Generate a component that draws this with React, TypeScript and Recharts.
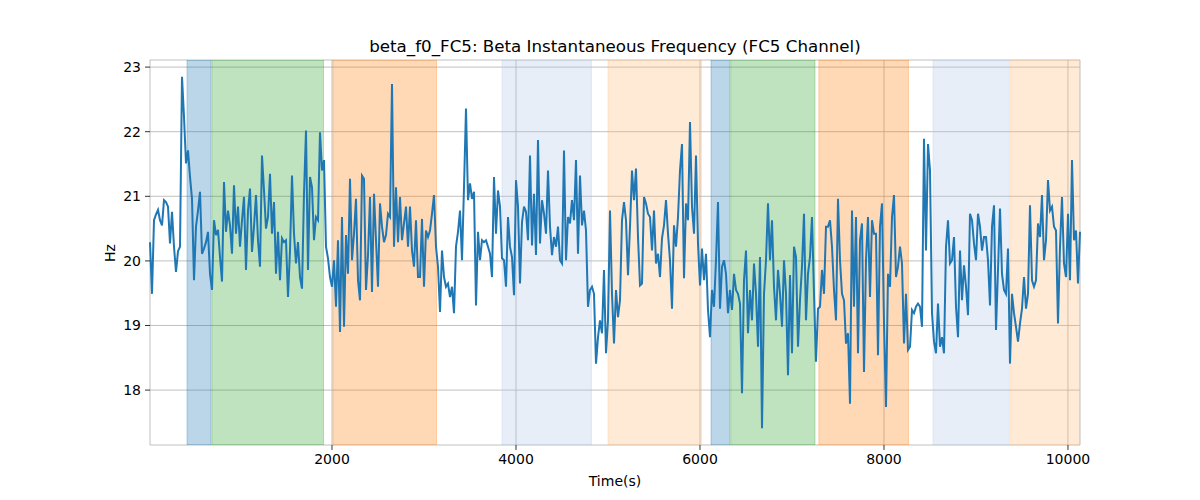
import {
  CartesianGrid,
  Line,
  LineChart,
  ReferenceArea,
  XAxis,
  YAxis,
} from 'recharts'

// sampling of the trace (seconds)
const START = 21.7
const STEP = 21.74

// beta instantaneous frequency (Hz), read in order along the trace
const freqPart1 = [20.29, 19.49, 20.63, 20.72, 20.79, 20.63, 20.55, 20.94, 20.91, 20.84, 20.27, 20.76, 20.22, 19.83, 20.15, 20.22, 22.85, 22.23, 21.51, 21.71, 21.3, 20.96, 19.7, 20.53, 20.78, 21.07, 20.11, 20.19, 20.29, 20.45, 19.8, 19.55, 20.63, 20.4, 20.48, 20.06, 19.68, 21.22, 20.45, 20.78, 20.55, 20.11, 21.17, 20.42, 20.84]
const freqPart2 = [20.22, 20.63, 20.99, 19.86, 20.78, 21.12, 20.14, 20.53, 21.02, 20.32, 19.91, 21.63, 21.09, 20.5, 20.68, 21.35, 20.42, 20.91, 19.8, 20.45, 19.7, 20.35, 20.29, 20.32, 19.44, 20.16, 21.32, 20.42, 19.96, 20.29, 19.75, 19.57, 21.04, 22.02, 19.86, 21.3, 21.14, 20.32, 20.68, 20.63, 21.99, 21.4, 21.56, 20.22, 20.04]
const freqPart3 = [19.75, 19.6, 20.01, 19.29, 20.32, 18.9, 20.68, 18.98, 20.4, 19.8, 21.27, 20.01, 20.42, 20.96, 19.7, 19.39, 21.32, 21.27, 19.55, 20.09, 20.99, 19.52, 21.04, 20.32, 19.6, 20.89, 20.53, 20.29, 20.4, 20.73, 20.68, 22.74, 20.22, 21.14, 20.29, 20.99, 20.32, 20.58, 20.84, 20.22, 20.84, 20.16, 19.91, 20.63, 19.75]
const freqPart4 = [19.75, 20.65, 19.6, 20.47, 20.37, 20.47, 20.73, 21.02, 20.22, 19.91, 19.21, 20.16, 19.75, 19.6, 19.65, 19.44, 19.6, 19.19, 20.22, 20.45, 20.78, 20.01, 21.14, 22.36, 20.94, 21.2, 20.96, 21.07, 19.31, 20.45, 20.01, 20.32, 20.29, 20.32, 20.22, 20.11, 19.75, 21.3, 20.42, 21.09, 20.84, 20.04, 20.01, 19.6, 20.68]
const freqPart5 = [20.22, 20.06, 19.47, 21.25, 20.84, 19.65, 20.6, 20.84, 20.76, 20.32, 21.63, 20.24, 21.04, 20.09, 21.87, 20.27, 20.94, 20.73, 20.42, 21.4, 20.53, 20.09, 20.37, 20.22, 20.53, 20.01, 19.96, 21.71, 20.01, 20.68, 20.58, 20.94, 20.63, 21.56, 20.11, 21.32, 20.55, 20.78, 20.47, 19.29, 19.55, 19.6, 19.49, 18.41, 18.82]
const freqPart6 = [19.08, 18.88, 19.86, 18.57, 19.08, 20.78, 19.49, 18.72, 19.55, 19.13, 19.39, 20.63, 20.91, 20.63, 19.78, 20.53, 21.4, 20.94, 21.43, 20.37, 19.62, 19.65, 20.99, 20.89, 20.73, 20.68, 20.16, 20.78, 19.96, 20.11, 19.75, 20.35, 20.55, 20.94, 20.42, 20.01, 19.26, 20.55, 20.22, 20.68, 21.4, 21.81, 19.73, 20.89, 20.63]
const freqPart7 = [22.15, 20.84, 20.42, 21.63, 20.27, 19.62, 20.19, 19.7, 20.11, 19.24, 18.82, 19.55, 19.29, 20.01, 20.91, 19.26, 19.91, 20.01, 19.8, 19.19, 19.55, 19.24, 19.8, 19.55, 19.49, 19.34, 17.95, 19.7, 20.16, 18.88, 19.55, 19.08, 19.96, 19.49, 18.67, 20.06, 17.41, 19.49, 20.01, 20.89, 20.01, 20.63, 19.6, 19.08, 19.86]
const freqPart8 = [19.49, 18.98, 20.01, 19.49, 18.23, 19.78, 18.57, 20.22, 20.06, 18.67, 19.39, 19.91, 20.73, 19.08, 19.8, 20.06, 20.68, 19.49, 18.44, 19.26, 19.29, 19.86, 19.49, 20.53, 20.53, 20.63, 20.22, 19.55, 19.08, 20.96, 20.01, 19.49, 19.39, 18.72, 18.88, 17.79, 20.78, 19.29, 20.68, 18.57, 20.32, 20.58, 18.28, 20.01, 20.68]
const freqPart9 = [19.44, 20.63, 20.42, 20.42, 18.54, 20.53, 20.89, 19.03, 17.74, 19.8, 19.6, 20.68, 21.02, 19.75, 19.91, 20.22, 19.96, 18.72, 19.49, 18.62, 18.67, 19.24, 19.19, 19.29, 19.34, 19.29, 18.98, 21.89, 20.16, 21.81, 21.4, 19.19, 18.75, 18.57, 19.34, 18.67, 18.82, 18.57, 20.22, 20.63, 19.96, 20.01, 20.37, 19.29, 18.82]
const freqPart10 = [20.16, 19.39, 19.93, 19.6, 19.16, 20.73, 20.63, 20.27, 20.01, 20.73, 20.53, 20.16, 20.37, 20.37, 20.01, 19.31, 20.53, 20.86, 18.93, 19.86, 20.81, 19.8, 19.55, 19.49, 20.19, 18.41, 19.49, 19.19, 18.98, 18.75, 19.03, 19.26, 19.75, 19.26, 19.49, 20.86, 19.7, 19.6, 19.7, 20.58, 20.37, 21.02, 20.01, 20.32, 21.25]
const freqPart11 = [20.78, 20.84, 20.53, 20.47, 19.03, 20.22, 20.99, 19.96, 19.75, 20.73, 19.7, 21.56, 20.32, 20.47, 19.65, 20.45]

// shaded segments
const spanStarts = [424, 694, 2010, 3848, 5000, 6120, 6334, 7292, 8533, 9376]
const spanEnds = [684, 1908, 3136, 4820, 6016, 6324, 7250, 8266, 9362, 10130]
const spanColors = ['#1f77b4', '#2ca02c', '#ff7f0e', '#aec7e8', '#ffbb78', '#1f77b4', '#2ca02c', '#ff7f0e', '#aec7e8', '#ffbb78']

const xTicks = [2000, 4000, 6000, 8000, 10000]
const yTicks = [18, 19, 20, 21, 22, 23]

const values = [
  ...freqPart1, ...freqPart2, ...freqPart3, ...freqPart4, ...freqPart5, ...freqPart6,
  ...freqPart7, ...freqPart8, ...freqPart9, ...freqPart10, ...freqPart11,
]
const data = values.map((hz, i) => ({ t: START + i * STEP, hz }))
const END = START + STEP * (values.length - 1)

const FONT = 'DejaVu Sans, sans-serif'

export default function App() {
  return (
    <div style={{ position: 'absolute', left: 0, top: 0, width: 1200, height: 500, background: '#fff' }}>
      <LineChart width={1200} height={500} data={data} margin={{ top: 60, right: 120, bottom: 0, left: 0 }}>
        {spanStarts.map((s, i) => (
          <ReferenceArea
            key={i}
            x1={s}
            x2={spanEnds[i]}
            ifOverflow="hidden"
            fill={spanColors[i]}
            fillOpacity={0.3}
            stroke={spanColors[i]}
            strokeOpacity={0.3}
            strokeWidth={1}
          />
        ))}
        <CartesianGrid stroke="#b0b0b0" strokeWidth={0.8} />
        <XAxis
          dataKey="t"
          type="number"
          domain={[START, END]}
          ticks={xTicks}
          height={55}
          tickSize={5}
          tickMargin={4}
          axisLine={false}
          tickLine={{ stroke: '#000', strokeWidth: 0.8 }}
          tick={{ fill: '#000', fontSize: 14, fontFamily: FONT }}
        />
        <YAxis
          type="number"
          domain={[17.15, 23.11]}
          ticks={yTicks}
          width={150}
          tickSize={5}
          tickMargin={4}
          axisLine={false}
          tickLine={{ stroke: '#000', strokeWidth: 0.8 }}
          tick={{ fill: '#000', fontSize: 14, fontFamily: FONT }}
        />
        <Line
          type="linear"
          dataKey="hz"
          stroke="#1f77b4"
          strokeWidth={2}
          dot={false}
          isAnimationActive={false}
        />
        <ReferenceArea fill="none" stroke="#000" strokeWidth={0.8} />
      </LineChart>
      <svg width={1200} height={500} style={{ position: 'absolute', left: 0, top: 0, pointerEvents: 'none' }}>
        <text x={615} y={46} textAnchor="middle" dominantBaseline="central" fontSize={16.7} fontFamily={FONT}>
          beta_f0_FC5: Beta Instantaneous Frequency (FC5 Channel)
        </text>
        <text x={615} y={481} textAnchor="middle" dominantBaseline="central" fontSize={14} fontFamily={FONT}>
          Time(s)
        </text>
        <text
          x={110}
          y={253}
          textAnchor="middle"
          dominantBaseline="central"
          fontSize={14}
          fontFamily={FONT}
          transform="rotate(-90 110 253)"
        >
          Hz
        </text>
      </svg>
    </div>
  )
}
